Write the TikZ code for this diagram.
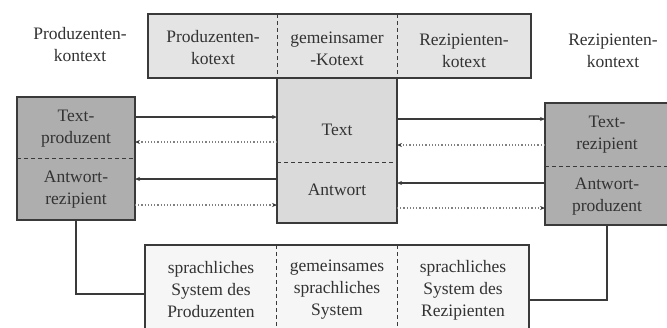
\documentclass[tikz,border=0pt]{standalone}
\usepackage{fontspec}
\setmainfont{Liberation Serif}
\usetikzlibrary{arrows.meta}
\definecolor{linec}{HTML}{3A3A3A}
\definecolor{txtc}{HTML}{333333}
\definecolor{topfill}{HTML}{E4E4E4}
\definecolor{midfill}{HTML}{DADADA}
\definecolor{sidefill}{HTML}{AEAEAE}
\definecolor{botfill}{HTML}{F6F6F6}
\begin{document}
\begin{tikzpicture}[x=1pt,y=-1pt,
  boxc/.style={draw=linec,line width=1.1pt,inner sep=0pt,outer sep=0pt},
  txt/.style={align=center,text=txtc,inner sep=0pt,font=\fontsize{17.5}{22}\selectfont},
  divider/.style={draw=linec,line width=1pt,dash pattern=on 4pt off 3pt},
  conn/.style={draw=linec,line width=1.1pt},
  solidarrow/.style={draw=linec,line width=1.1pt,-{Stealth[length=5pt,width=4pt]}},
  dotarrow/.style={draw=gray,line width=1.2pt,dash pattern=on 1.2pt off 2pt,-{Stealth[length=5pt,width=4pt,color=linec,fill=linec]}}
]
\useasboundingbox (0,0) rectangle (667,327);
\fill[white] (0,0) rectangle (667,327);

% boxes
\node[boxc,fill=topfill,minimum width=383pt,minimum height=64pt] (top) at (339.5,46) {};
\node[boxc,fill=midfill,minimum width=120pt,minimum height=145pt] (mid) at (337,150.5) {};
\node[boxc,fill=sidefill,minimum width=118pt,minimum height=123pt] (lbox) at (76,158.5) {};
\node[boxc,fill=sidefill,minimum width=124pt,minimum height=122pt] (rbox) at (607,164) {};
\node[boxc,fill=botfill,minimum width=384pt,minimum height=84pt] (bot) at (337,287) {};

% dividers
\draw[divider] (277,14) -- (277,78);
\draw[divider] (397,14) -- (397,78);
\draw[divider] (mid.west |- 0,162) -- (mid.east |- 0,162);
\draw[divider] (lbox.west |- 0,158) -- (lbox.east |- 0,158);
\draw[divider] (rbox.west |- 0,166) -- (rbox.east |- 0,166);
\draw[divider] (276,245) -- (276,327);
\draw[divider] (397,245) -- (397,327);

% texts
\node[txt] (pkx) at (80,45) {Produzenten-\\kontext};
\node[txt] (rkx) at (613,51) {Rezipienten-\\kontext};
\node[txt] (pko) at (213,48) {Produzenten-\\kotext};
\node[txt] (gko) at (337,49) {gemeinsamer\\{-}Kotext};
\node[txt] (rko) at (464,51) {Rezipienten-\\kotext};
\node[txt] (ttext) at (337,130) {Text};
\node[txt] (tant) at (337,190) {Antwort};
\node[txt] (tprod) at (76,129) {Text-\\produzent};
\node[txt] (arez) at (76,190) {Antwort-\\rezipient};
\node[txt] (trez) at (607,135) {Text-\\rezipient};
\node[txt] (aprod) at (607,197) {Antwort-\\produzent};
\node[txt] (sp) at (211,290) {sprachliches\\System des\\Produzenten};
\node[txt] (sg) at (337,290) {gemeinsames\\sprachliches\\System};
\node[txt] (sr) at (463,290) {sprachliches\\System des\\Rezipienten};

% arrows left
\draw[solidarrow] (lbox.east |- 0,117) -- (mid.west |- 0,117);
\draw[dotarrow] (mid.west |- 0,142) -- (lbox.east |- 0,142);
\draw[solidarrow] (mid.west |- 0,179) -- (lbox.east |- 0,179);
\draw[dotarrow] (lbox.east |- 0,205) -- (mid.west |- 0,205);
% arrows right
\draw[solidarrow] (mid.east |- 0,119) -- (rbox.west |- 0,119);
\draw[dotarrow] (rbox.west |- 0,145) -- (mid.east |- 0,145);
\draw[solidarrow] (rbox.west |- 0,183) -- (mid.east |- 0,183);
\draw[dotarrow] (mid.east |- 0,208) -- (rbox.west |- 0,208);

% connectors to bottom box
\draw[conn] (lbox.south) |- (bot.west |- 0,294);
\draw[conn] (rbox.south) |- (bot.east |- 0,300);
\end{tikzpicture}
\end{document}
